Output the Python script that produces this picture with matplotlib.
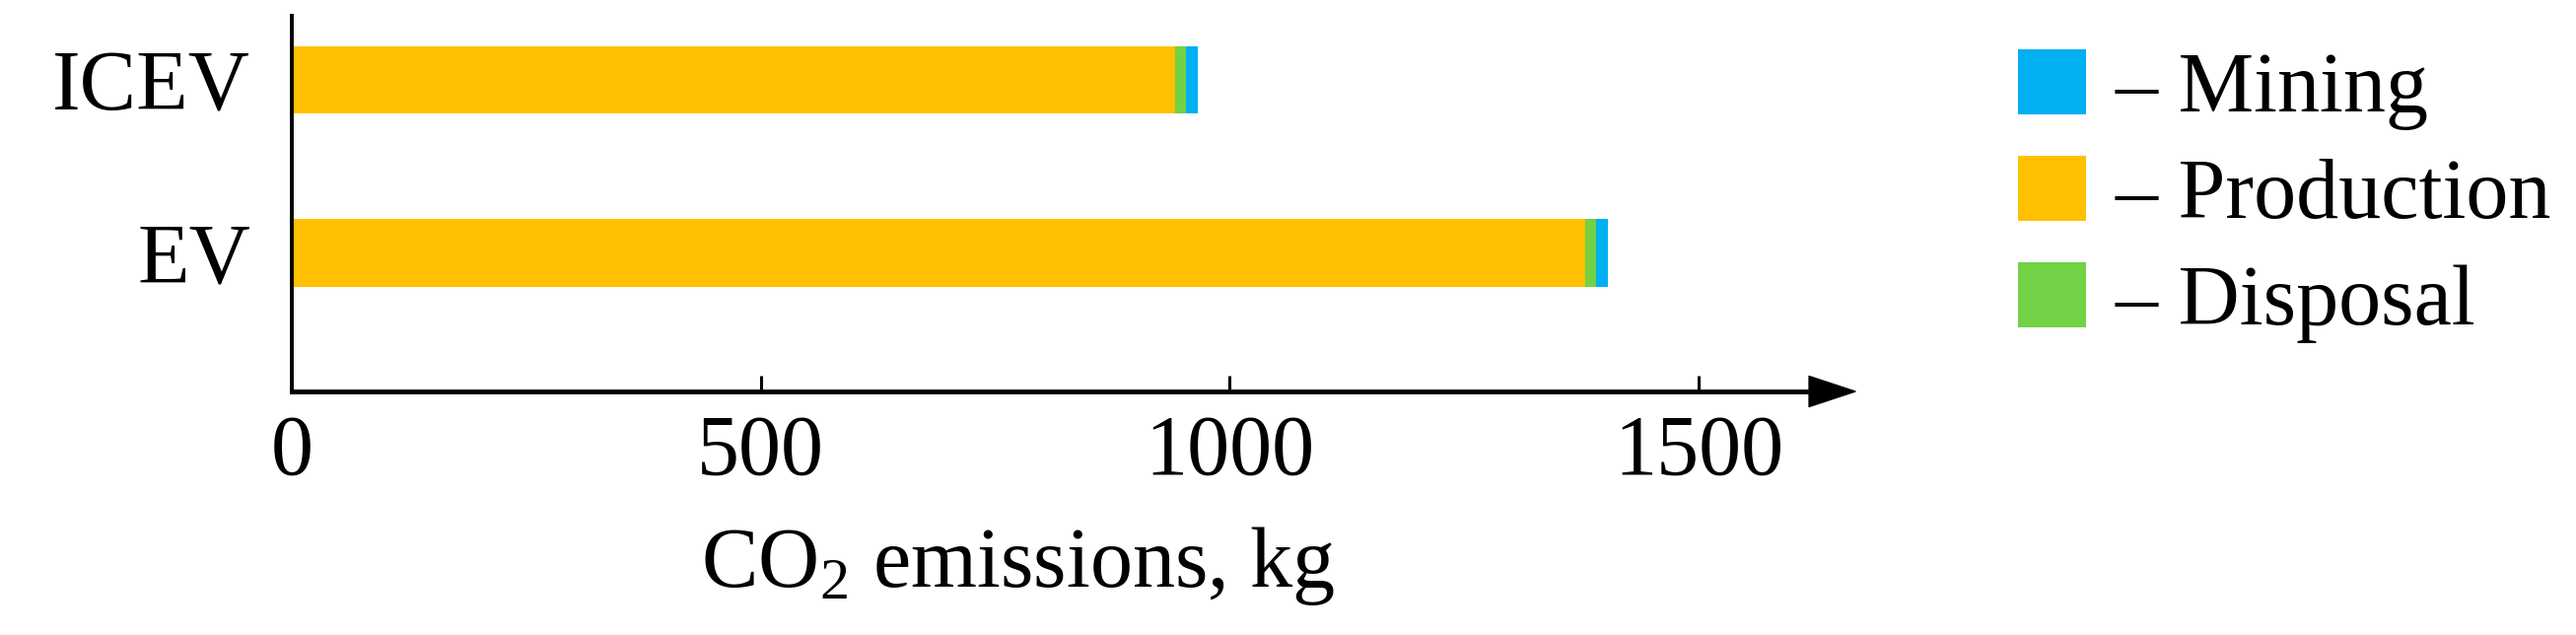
import matplotlib
matplotlib.use("Agg")
import matplotlib.pyplot as plt
import numpy as np

# Data (kg CO2)
vehicles = ["EV", "ICEV"]
production = [1379, 942]
disposal = [12, 11]
mining = [12, 13]

x_ticks = [0, 500, 1000, 1500]

plt.rcParams["font.family"] = ["Liberation Serif", "DejaVu Serif"]
plt.rcParams["mathtext.fontset"] = "custom"
plt.rcParams["mathtext.rm"] = "Liberation Serif"
plt.rcParams["mathtext.it"] = "Liberation Serif:italic"

fs = 62
c_mining = "#00B0F0"
c_prod = "#FFC000"
c_disp = "#70D244"

fig = plt.figure(figsize=(26.13, 6.44), dpi=100)
ax = fig.add_axes([296 / 2613, 1 - 397 / 644, (1882 - 296) / 2613, (397 - 16) / 644])

y = np.arange(len(vehicles))
h = 0.39
prod = np.array(production)
disp = np.array(disposal)
mine = np.array(mining)

b_prod = ax.barh(y, prod, height=h, color=c_prod, label="\u2013 Production")
b_disp = ax.barh(y, disp, height=h, left=prod, color=c_disp, label="\u2013 Disposal")
b_mine = ax.barh(y, mine, height=h, left=prod + disp, color=c_mining, label="\u2013 Mining")

ax.set_xlim(0, 1667)
ax.set_ylim(-0.8, 1.37)
ax.set_yticks(y)
ax.set_yticklabels(vehicles, fontsize=fs)
ax.set_xticks(x_ticks)
ax.set_xticklabels([str(t) for t in x_ticks], fontsize=fs)

ax.tick_params(axis="x", direction="in", length=11.5, width=2.2, pad=17)
ax.tick_params(axis="y", length=0, pad=30)

for s in ["top", "right"]:
    ax.spines[s].set_visible(False)
ax.spines["left"].set_linewidth(2.8)
ax.spines["bottom"].set_linewidth(3.5)
ax.spines["bottom"].set_bounds(0, 1640)

# arrow head at the end of the x axis
ax.annotate("", xy=(1, 0), xycoords="axes fraction", xytext=(0.96, 0),
            arrowprops=dict(facecolor="black", edgecolor="black", width=0.5,
                            headwidth=22.3, headlength=33.8, shrink=0),
            annotation_clip=False)

ax.set_xlabel("CO$_2$ emissions, kg", fontsize=fs)
ax.xaxis.set_label_coords((1033 - 296) / (1882 - 296), -(595 - 397) / (397 - 16))
ax.xaxis.label.set_va("baseline")

handles = [b_mine, b_prod, b_disp]
fig.legend(handles, [hh.get_label() for hh in handles], fontsize=fs,
           loc="upper left", bbox_to_anchor=(2030 / 2613, 1 - 33 / 644),
           frameon=False, handlelength=0.8, handleheight=0.8,
           handletextpad=0.34, labelspacing=0.305, borderpad=0.2,
           borderaxespad=0)

fig.savefig("out.png", dpi=100)
